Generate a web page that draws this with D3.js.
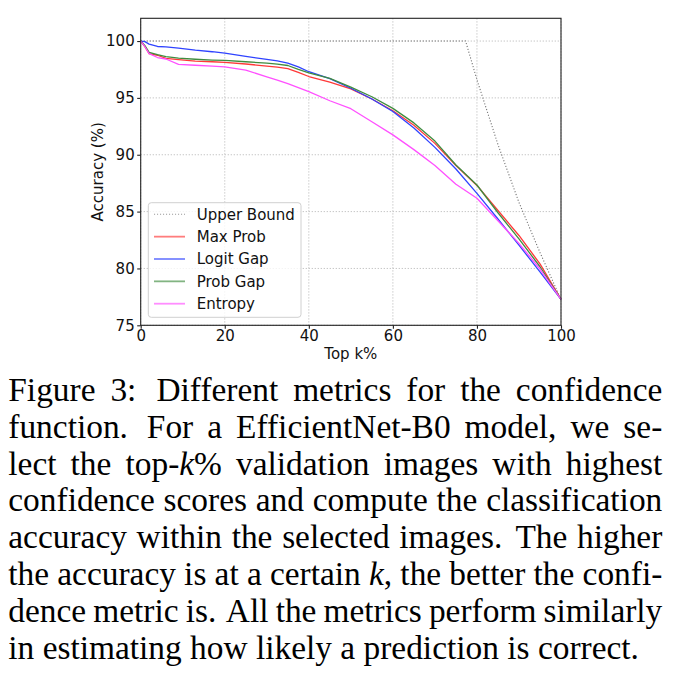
<!DOCTYPE html>
<html>
<head>
<meta charset="utf-8">
<script src="https://cdn.jsdelivr.net/npm/d3@7"></script>
<style>
  body { margin: 0; background: #fff; }
  svg { display: block; }
</style>
</head>
<body>
<div id="chart"></div>
<script>
// values (top k% -> accuracy %)
const K_PCT = [0, 1, 2, 4, 6, 9, 13, 17, 20, 25, 30, 32.5, 35, 37.5, 40, 45, 50, 55, 60, 65, 70, 75, 80, 85, 90, 95, 100];
const MAX_PROB  = [100, 99.5, 98.9, 98.75, 98.48, 98.36, 98.23, 98.18, 98.12, 97.98, 97.8, 97.7, 97.58, 97.25, 96.88, 96.38, 95.8, 94.9, 93.87, 92.6, 91.0, 89.05, 87.3, 85.1, 82.9, 80.4, 77.28];
const LOGIT_GAP = [100, 99.95, 99.73, 99.52, 99.48, 99.38, 99.2, 99.06, 98.93, 98.65, 98.38, 98.25, 98.05, 97.72, 97.3, 96.7, 95.85, 94.9, 93.8, 92.35, 90.65, 88.75, 86.6, 84.35, 82.05, 79.7, 77.28];
const PROB_GAP  = [100, 99.6, 99.0, 98.8, 98.63, 98.5, 98.4, 98.33, 98.3, 98.18, 98.05, 97.97, 97.85, 97.5, 97.2, 96.72, 95.95, 95.1, 94.08, 92.8, 91.2, 89.1, 87.34, 84.9, 82.6, 80.15, 77.28];
const ENTROPY   = [100, 99.5, 98.9, 98.55, 98.42, 97.95, 97.87, 97.8, 97.72, 97.45, 96.85, 96.57, 96.25, 95.9, 95.55, 94.75, 94.05, 92.9, 91.75, 90.45, 89.05, 87.4, 86.17, 84.2, 82.2, 79.95, 77.28];

// upper bound: flat at 100 then falling to the final accuracy
const UB_K   = [0, 77.3, 80, 85, 90, 95, 100];
const UB_ACC = [100, 100, 96.6, 90.9, 85.8, 81.4, 77.28];

const X_TICKS = [0, 20, 40, 60, 80, 100];
const Y_TICKS = [75, 80, 85, 90, 95, 100];

const SERIES_NAMES = ["Max Prob", "Logit Gap", "Prob Gap", "Entropy"];
const SERIES_VALUES = [MAX_PROB, LOGIT_GAP, PROB_GAP, ENTROPY];
const SERIES_COLORS = ["#ff3838", "#2f43ff", "#3f8c3f", "#ff50ff"];

const CAPTION_LINES = [
  "Figure 3:  Different metrics for the confidence",
  "function.  For a EfficientNet-B0 model, we se-",
  "lect the top-*k*% validation images with highest",
  "confidence scores and compute the classification",
  "accuracy within the selected images. The higher",
  "the accuracy is at a certain *k*, the better the confi-",
  "dence metric is. All the metrics perform similarly",
  "in estimating how likely a prediction is correct."
];

// layout
const WIDTH = 682;
const HEIGHT = 676;
const PLOT = { left: 140.7, right: 561, top: 18.3, bottom: 325.3 };
const FONT = "'DejaVu Sans', Verdana, sans-serif";

const svg = d3.select("#chart").append("svg")
  .attr("width", WIDTH).attr("height", HEIGHT);

const x = d3.scaleLinear().domain([0, 100]).range([PLOT.left, PLOT.right]);
const y = d3.scaleLinear().domain([75, 102]).range([PLOT.bottom, PLOT.top]);

drawChart();
drawLegend();
drawCaption();

function drawChart () {
  // grid
  const grid = svg.append("g").attr("stroke", "#b8b8b8").attr("stroke-width", 0.9)
    .attr("stroke-dasharray", "1.2,1.8");
  grid.selectAll("line.v").data(X_TICKS).join("line")
    .attr("x1", d => x(d)).attr("x2", d => x(d))
    .attr("y1", PLOT.top).attr("y2", PLOT.bottom);
  grid.selectAll("line.h").data(Y_TICKS).join("line")
    .attr("y1", d => y(d)).attr("y2", d => y(d))
    .attr("x1", PLOT.left).attr("x2", PLOT.right);

  // upper bound
  const ub = UB_K.map((k, i) => [k, UB_ACC[i]]);
  svg.append("path")
    .datum(ub)
    .attr("fill", "none")
    .attr("stroke", "#707070")
    .attr("stroke-width", 1.1)
    .attr("stroke-dasharray", "1.1,1.9")
    .attr("d", d3.line().x(d => x(d[0])).y(d => y(d[1])));

  // metric curves
  const line = d3.line().x(d => x(d[0])).y(d => y(d[1]));
  SERIES_VALUES.forEach((vals, i) => {
    svg.append("path")
      .datum(K_PCT.map((k, j) => [k, vals[j]]))
      .attr("fill", "none")
      .attr("stroke", SERIES_COLORS[i])
      .attr("stroke-width", 1.3)
      .attr("stroke-linejoin", "round")
      .attr("d", line);
  });

  // frame
  svg.append("rect")
    .attr("x", PLOT.left).attr("y", PLOT.top)
    .attr("width", PLOT.right - PLOT.left).attr("height", PLOT.bottom - PLOT.top)
    .attr("fill", "none").attr("stroke", "#222").attr("stroke-width", 1.1);

  // axes
  const xAxis = svg.append("g")
    .attr("transform", `translate(0,${PLOT.bottom})`)
    .call(d3.axisBottom(x).tickValues(X_TICKS).tickSize(3.5).tickPadding(1.5).tickSizeOuter(0));
  const yAxis = svg.append("g")
    .attr("transform", `translate(${PLOT.left},0)`)
    .call(d3.axisLeft(y).tickValues(Y_TICKS).tickSize(3.5).tickPadding(2.5).tickSizeOuter(0));

  for (const a of [xAxis, yAxis]) {
    a.select(".domain").remove();
    a.selectAll("line").attr("stroke", "#222").attr("stroke-width", 1.1);
    a.selectAll("text").attr("font-family", FONT).attr("font-size", 15).attr("fill", "#111");
  }

  // axis titles
  svg.append("text")
    .attr("x", (PLOT.left + PLOT.right) / 2).attr("y", 359)
    .attr("text-anchor", "middle")
    .attr("font-family", FONT).attr("font-size", 15).attr("fill", "#111")
    .text("Top k%");
  svg.append("text")
    .attr("transform", `translate(102.8,${(PLOT.top + PLOT.bottom) / 2}) rotate(-90)`)
    .attr("text-anchor", "middle")
    .attr("font-family", FONT).attr("font-size", 15).attr("fill", "#111")
    .text("Accuracy (%)");
}

function drawLegend () {
  const g = svg.append("g");
  g.append("rect")
    .attr("x", 148.3).attr("y", 202.7)
    .attr("width", 152.7).attr("height", 114.6)
    .attr("rx", 3)
    .attr("fill", "#fff").attr("fill-opacity", 0.8)
    .attr("stroke", "#d0d0d0").attr("stroke-width", 1);

  const names = ["Upper Bound"].concat(SERIES_NAMES);
  const colors = ["#9a9a9a"].concat(SERIES_COLORS);
  const rowY = d3.scaleLinear().domain([0, 4]).range([214.3, 303.7]);

  names.forEach((name, i) => {
    g.append("line")
      .attr("x1", 154).attr("x2", 185)
      .attr("y1", rowY(i)).attr("y2", rowY(i))
      .attr("stroke", colors[i])
      .attr("stroke-width", i === 0 ? 1.1 : 1.8)
      .attr("stroke-opacity", i === 0 ? 1 : 0.65)
      .attr("stroke-dasharray", i === 0 ? "1.1,1.9" : null);
    g.append("text")
      .attr("x", 196.7).attr("y", rowY(i))
      .attr("dy", "0.36em")
      .attr("font-family", FONT).attr("font-size", 15).attr("fill", "#111")
      .text(name);
  });
}

function drawCaption () {
  const left = 8.3, right = 662.3, top = 401, step = 36.8;
  const width = right - left;
  const g = svg.append("g")
    .attr("font-family", "'Liberation Serif', 'Times New Roman', serif")
    .attr("fill", "#000");

  let fs = 33.4;

  // build one text node per word, italic parts marked with *...*
  const lines = CAPTION_LINES.map((str, i) => {
    const words = str.split(" ").filter(w => w.length);
    return words.map(w => {
      const t = g.append("text").attr("y", top + i * step);
      w.split(/(\*[^*]+\*)/).filter(s => s.length).forEach(part => {
        if (part[0] === "*") {
          t.append("tspan").attr("font-style", "italic").text(part.slice(1, -1));
        } else {
          t.append("tspan").text(part);
        }
      });
      return { node: t, word: w };
    });
  });

  function measure () {
    g.attr("font-size", fs);
    return lines.map(ws => ws.map(w => w.node.node().getComputedTextLength()));
  }

  let widths = measure();
  // shrink if a justified line would get too tight
  let factor = 1;
  widths.forEach((ws, i) => {
    if (i === lines.length - 1) return;
    const need = d3.sum(ws) + (ws.length - 1) * 0.17 * fs;
    if (need > width) factor = Math.min(factor, width / need);
  });
  if (factor < 1) {
    fs *= factor;
    widths = measure();
  }

  lines.forEach((ws, i) => {
    const total = d3.sum(widths[i]);
    const weights = ws.slice(0, -1).map(w => /[.:]$/.test(w.word) ? 1.35 : 1);
    const wsum = d3.sum(weights);
    const last = i === lines.length - 1;
    const unit = last ? 0.25 * fs : (width - total) / wsum;
    let cx = left;
    ws.forEach((w, j) => {
      w.node.attr("x", cx);
      cx += widths[i][j] + (j < weights.length ? weights[j] * unit : 0);
    });
  });
}
</script>
</body>
</html>
